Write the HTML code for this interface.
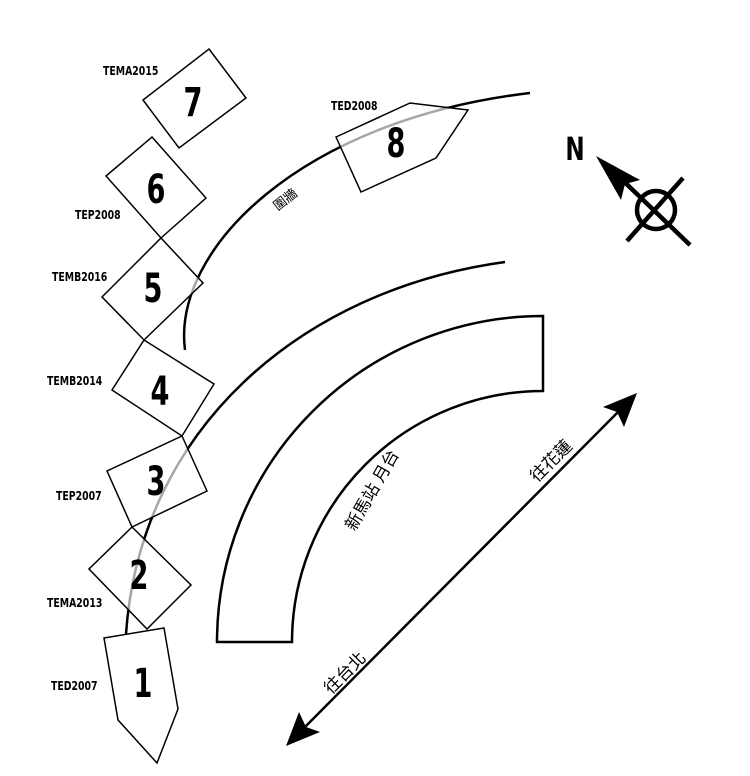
<!DOCTYPE html>
<html><head><meta charset="utf-8"><style>
html,body{margin:0;padding:0;background:#fff}
svg{display:block}
.l{font-family:"DejaVu Sans","Liberation Sans",sans-serif;font-weight:bold;font-size:12px}
.n{font-family:"DejaVu Sans","Liberation Sans",sans-serif;font-weight:bold;font-size:40px;text-anchor:middle}
.c{font-family:"Liberation Sans","Noto Sans CJK TC",sans-serif;font-size:17px;text-anchor:middle}
</style></head><body>
<svg width="750" height="776" viewBox="0 0 750 776" xmlns="http://www.w3.org/2000/svg">
<g fill="none" stroke="#000" stroke-width="2.5">
<path d="M126,634 C140,430 300,290 505,262"/>
<path d="M185,350 C172,250 300,120 530,93"/>
</g>
<g fill="rgba(255,255,255,0.65)" stroke="#000" stroke-width="1.5">
<polygon points="209,49 246,98 179,148 143,100"/>
<polygon points="152,137 206,198 161,238 106,176"/>
<polygon points="161,238 203,283 144,340 102,297"/>
<polygon points="144,340 214,384 182,436 112,390"/>
<polygon points="182,436 207,491 132,527 107,471"/>
<polygon points="132,527 191,585 147,629 89,569"/>
<polygon points="104,638 164,628 178,709 157,763 118,720"/>
<polygon points="336,137 410,103 468,110 436,158 361,192"/>
</g>
<path d="M217,642 A326,326 0 0 1 543,316 L543,391 A251,251 0 0 0 292,642 Z" fill="none" stroke="#000" stroke-width="2.5"/>
<line x1="298" y1="734" x2="625" y2="405" stroke="#000" stroke-width="2.5"/>
<polygon points="637,393 624,427 617,412 603,407" fill="#000"/>
<polygon points="286,746 299,712 306,727 320,732" fill="#000"/>
<line x1="690" y1="245" x2="612" y2="170" stroke="#000" stroke-width="4.5"/>
<polygon points="596,156 640,180 625,184 621,200" fill="#000"/>
<line x1="627" y1="241" x2="683" y2="178" stroke="#000" stroke-width="4.5"/>
<circle cx="656" cy="210" r="19" fill="none" stroke="#000" stroke-width="4.5"/>
<text class="n" style="font-size:32px" transform="translate(575,160) scale(0.72,1)">N</text>
<g class="l">
<text transform="translate(103,75) scale(0.78,1)">TEMA2015</text>
<text transform="translate(75,219) scale(0.78,1)">TEP2008</text>
<text transform="translate(52,281) scale(0.78,1)">TEMB2016</text>
<text transform="translate(47,385) scale(0.78,1)">TEMB2014</text>
<text transform="translate(56,500) scale(0.78,1)">TEP2007</text>
<text transform="translate(47,607) scale(0.78,1)">TEMA2013</text>
<text transform="translate(51,690) scale(0.78,1)">TED2007</text>
<text transform="translate(331,110) scale(0.78,1)">TED2008</text>
</g>
<g class="n">
<text transform="translate(193,116) scale(0.68,1)">7</text>
<text transform="translate(156,203) scale(0.68,1)">6</text>
<text transform="translate(153,302) scale(0.68,1)">5</text>
<text transform="translate(160,405) scale(0.68,1)">4</text>
<text transform="translate(156,495) scale(0.68,1)">3</text>
<text transform="translate(139,589) scale(0.68,1)">2</text>
<text transform="translate(143,697) scale(0.68,1)">1</text>
<text transform="translate(396,157) scale(0.68,1)">8</text>
</g>
<text class="c" style="font-size:13px" transform="translate(288,203) rotate(-38)">圍牆</text>
<text class="c" transform="translate(377,493) rotate(-60)">新馬站 月台</text>
<text class="c" transform="translate(555,465) rotate(-45)">往花蓮</text>
<text class="c" transform="translate(349,677) rotate(-45)">往台北</text>
</svg>
</body></html>
